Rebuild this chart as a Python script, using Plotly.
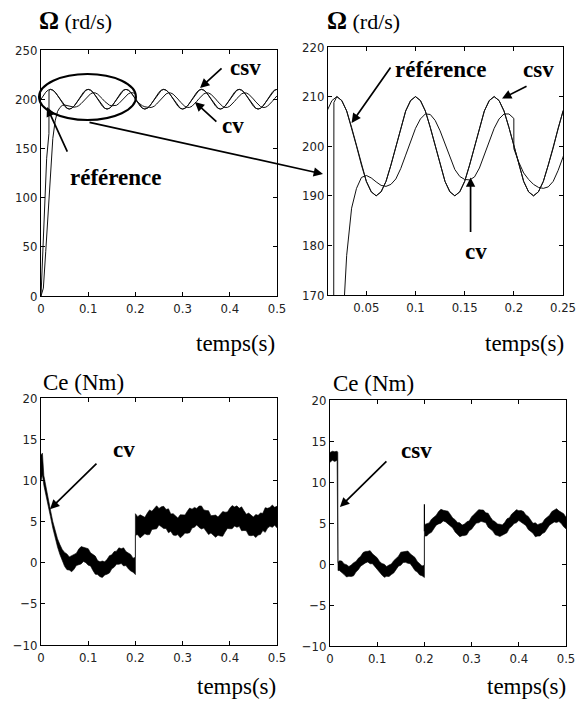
import plotly.graph_objects as go

W, H = 579, 704
OFF = 0  # body margin is removed by the post_script below


def grid(a, b):
    n = int(round((b - a) / 0.005)) + 1
    return [round(a + 0.005 * i, 4) for i in range(n)]


# ---------------- speed (rd/s) ----------------
ref_t = grid(0, 0.5)
ref_w = [200.0, 203.8, 207.1, 209.2, 210.0, 209.2, 207.1, 203.8, 200.0, 196.2, 192.9, 190.8, 190.0, 190.8, 192.9, 196.2,
         200.0, 203.8, 207.1, 209.2, 210.0, 209.2, 207.1, 203.8, 200.0, 196.2, 192.9, 190.8, 190.0, 190.8, 192.9, 196.2,
         200.0, 203.8, 207.1, 209.2, 210.0, 209.2, 207.1, 203.8, 200.0, 196.2, 192.9, 190.8, 190.0, 190.8, 192.9, 196.2,
         200.0, 203.8, 207.1, 209.2, 210.0, 209.2, 207.1, 203.8, 200.0, 196.2, 192.9, 190.8, 190.0, 190.8, 192.9, 196.2,
         200.0, 203.8, 207.1, 209.2, 210.0, 209.2, 207.1, 203.8, 200.0, 196.2, 192.9, 190.8, 190.0, 190.8, 192.9, 196.2,
         200.0, 203.8, 207.1, 209.2, 210.0, 209.2, 207.1, 203.8, 200.0, 196.2, 192.9, 190.8, 190.0, 190.8, 192.9, 196.2,
         200.0, 203.8, 207.1, 209.2, 210.0]

csv_t = [0, 0.004, 0.008, 0.012, 0.0168, 0.017] + grid(0.02, 0.5)
csv_w = [0.0, 45.0, 95.0, 140.0, 165.0, 208.8,
         210.0, 209.2, 207.1, 203.8, 200.0, 196.2, 192.9, 190.8, 190.0, 190.8, 192.9, 196.2,
         200.0, 203.8, 207.1, 209.2, 210.0, 209.2, 207.1, 203.8, 200.0, 196.2, 192.9, 190.8, 190.0, 190.8, 192.9, 196.2,
         200.0, 203.8, 207.1, 209.2, 210.0, 209.2, 207.1, 203.8, 200.0, 196.2, 192.9, 190.8, 190.0, 190.8, 192.9, 196.2,
         199.6, 203.6, 207.0, 209.1, 210.0, 209.2, 207.1, 203.8, 200.0, 196.2, 192.9, 190.8, 190.0, 190.8, 192.9, 196.2,
         200.0, 203.8, 207.1, 209.2, 210.0, 209.2, 207.1, 203.8, 200.0, 196.2, 192.9, 190.8, 190.0, 190.8, 192.9, 196.2,
         200.0, 203.8, 207.1, 209.2, 210.0, 209.2, 207.1, 203.8, 200.0, 196.2, 192.9, 190.8, 190.0, 190.8, 192.9, 196.2,
         200.0, 203.8, 207.1, 209.2, 210.0]

cv_t = grid(0, 0.2) + [0.2] + grid(0.205, 0.5)
cv_w = [0.0, 8.0, 45.0, 85.0, 125.0, 160.0, 178.0, 187.5, 191.5, 193.7,
        194.1, 193.6, 192.8, 192.1, 191.9, 192.3, 193.4, 195.5, 198.2, 201.0,
        203.6, 205.5, 206.5, 206.4, 205.2, 203.1, 200.4, 197.7, 195.3, 193.9,
        193.3, 193.2, 193.8, 195.6, 198.2, 201.0, 203.6, 205.5, 206.5, 206.5,
        205.6,
        199.5,
        196.8, 194.6, 193.3, 192.3, 191.7, 191.5, 191.8, 192.9, 195.1, 197.8,
        200.7, 203.4, 205.4, 206.4, 206.3, 205.1, 202.9, 200.2, 197.3, 194.6,
        192.6, 191.6, 191.7, 192.9, 195.1, 197.8, 200.7, 203.4, 205.4, 206.4,
        206.3, 205.1, 202.9, 200.2, 197.3, 194.6, 192.6, 191.6, 191.7, 192.9,
        195.1, 197.8, 200.7, 203.4, 205.4, 206.4, 206.3, 205.1, 202.9, 200.2,
        197.3, 194.6, 192.6, 191.6, 191.7, 192.9, 195.1, 197.8, 200.7, 203.4]

# ---------------- torque Ce (Nm): centre of the noisy band and its half-width ----------------
ce_cv_t = [0, 0.003, 0.006] + grid(0.01, 0.2) + [0.2] + grid(0.205, 0.5)
ce_cv_c = [11.5, 12.0, 10.0,
           8.8, 7.3, 6.0, 4.6, 3.4, 2.4, 1.6, 0.9,
           0.4, 0.1, -0.1, -0.1, 0.1, 0.4, 0.7, 0.9, 1.0, 0.9,
           0.7, 0.4, 0.0, -0.3, -0.6, -0.8, -0.8, -0.7, -0.5, -0.2,
           0.1, 0.4, 0.6, 0.8, 0.8, 0.7, 0.5, 0.2, 0.0, -0.3, -0.4,
           4.65,
           4.49, 4.41, 4.42, 4.51, 4.69, 4.91, 5.14, 5.35, 5.51, 5.59, 5.58, 5.49, 5.31, 5.09, 4.86,
           4.65, 4.49, 4.41, 4.42, 4.51, 4.69, 4.91, 5.14, 5.35, 5.51, 5.59, 5.58, 5.49, 5.31, 5.09, 4.86,
           4.65, 4.52, 4.43, 4.44, 4.53, 4.71, 4.93, 5.16, 5.37, 5.53, 5.61, 5.60, 5.51, 5.33, 5.11, 4.88,
           4.67, 4.52, 4.44, 4.45, 4.55, 4.73, 4.95, 5.18, 5.40, 5.56, 5.64, 5.63, 5.55]
ce_cv_s = [1.6, 1.3, 0.6,
           0.5, 0.4, 0.4, 0.4, 0.45, 0.5, 0.6, 0.7,
           0.85, 0.95, 0.8, 1.0, 0.9, 0.75, 0.95, 1.05, 0.85, 0.9,
           1.0, 0.8, 0.95, 1.1, 0.85, 0.9, 1.0, 0.8, 0.9, 1.05,
           0.85, 0.95, 0.8, 1.0, 0.9, 1.1, 0.85, 0.95, 1.0, 0.85, 1.05,
           1.3, 1.1, 1.4, 1.2, 1.0, 1.3, 1.5, 1.1, 1.25, 1.4,
           1.0, 1.2, 1.35, 1.15, 1.45, 1.05, 1.3, 1.2, 1.0, 1.4,
           1.25, 1.1, 1.35, 1.5, 1.15, 1.2, 1.0, 1.3, 1.4, 1.1,
           1.25, 1.45, 1.05, 1.2, 1.35, 1.1, 1.3, 1.5, 1.2, 1.0,
           1.25, 1.4, 1.15, 1.3, 1.1, 1.45, 1.2, 1.0, 1.35, 1.25,
           1.1, 1.4, 1.2, 1.3, 1.05, 1.5, 1.2, 1.15, 1.35, 1.1,
           1.3]

ce_csv_t = [0, 0.005, 0.01, 0.015, 0.0165, 0.017] + grid(0.02, 0.2) + [0.2] + grid(0.205, 0.5)
ce_csv_c = [13.0, 13.2, 13.1, 13.2, 13.0, -0.3,
            -0.2, -0.34, -0.64, -0.83, -0.9, -0.83, -0.64, -0.34, 0.0, 0.34,
            0.64, 0.83, 0.9, 0.83, 0.64, 0.34, 0.0, -0.34, -0.64, -0.83,
            -0.9, -0.83, -0.64, -0.34, 0.0, 0.34, 0.64, 0.83, 0.9, 0.83,
            0.64, 0.34, 0.0, -0.34, -0.64, -0.83, -0.9,
            4.1,
            4.17, 4.36, 4.66, 5.0, 5.34, 5.64, 5.83, 5.9, 5.83, 5.64, 5.34, 5.0, 4.66, 4.36, 4.17,
            4.1, 4.17, 4.36, 4.66, 5.0, 5.34, 5.64, 5.83, 5.9, 5.83, 5.64, 5.34, 5.0, 4.66, 4.36, 4.17,
            4.1, 4.17, 4.36, 4.66, 5.0, 5.34, 5.64, 5.83, 5.9, 5.83, 5.64, 5.34, 5.0, 4.66, 4.36, 4.17,
            4.1, 4.17, 4.36, 4.66, 5.0, 5.34, 5.64, 5.83, 5.9, 5.83, 5.64, 5.34, 5.0]
ce_csv_s = [0.6, 0.55, 0.6, 0.55, 0.6, 0.5,
            0.6, 0.7, 0.65, 0.75, 0.6, 0.7, 0.8, 0.65, 0.7, 0.6,
            0.75, 0.7, 0.65, 0.8, 0.6, 0.7, 0.75, 0.65, 0.7, 0.8,
            0.6, 0.7, 0.65, 0.75, 0.7, 0.6, 0.8, 0.65, 0.7, 0.75,
            0.6, 0.7, 0.8, 0.65, 0.7, 0.6, 0.75,
            0.7, 0.75, 0.65, 0.8, 0.7, 0.6, 0.75, 0.85, 0.65, 0.7,
            0.8, 0.7, 0.6, 0.75, 0.7, 0.85, 0.65, 0.7, 0.8, 0.6,
            0.75, 0.7, 0.65, 0.8, 0.7, 0.75, 0.6, 0.85, 0.7, 0.65,
            0.8, 0.7, 0.75, 0.6, 0.7, 0.85, 0.65, 0.75, 0.7, 0.8,
            0.6, 0.7, 0.75, 0.65, 0.8, 0.7, 0.6, 0.85, 0.7, 0.75,
            0.65, 0.8, 0.7, 0.6, 0.75, 0.7, 0.85, 0.65, 0.7, 0.8,
            0.7]
spike_t = [0.2, 0.2]
spike_ce = [4.0, 7.3]

# tick labels
t_ticks = [0, 0.1, 0.2, 0.3, 0.4, 0.5]
t_labels = ["0", "0.1", "0.2", "0.3", "0.4", "0.5"]
tz_ticks = [0.05, 0.1, 0.15, 0.2, 0.25]
tz_labels = ["0.05", "0.1", "0.15", "0.2", "0.25"]
w_ticks = [0, 50, 100, 150, 200, 250]
wz_ticks = [170, 180, 190, 200, 210, 220]
ce_ticks = [-10, -5, 0, 5, 10, 15, 20]

for name, a, b in [("ref", ref_t, ref_w), ("csv", csv_t, csv_w), ("cv", cv_t, cv_w),
                   ("ce_cv_c", ce_cv_t, ce_cv_c), ("ce_cv_s", ce_cv_t, ce_cv_s),
                   ("ce_csv_c", ce_csv_t, ce_csv_c), ("ce_csv_s", ce_csv_t, ce_csv_s)]:
    if len(a) != len(b):
        raise SystemExit(f"length mismatch {name}: {len(a)} vs {len(b)}")


def band(t, c, s):
    up = [ci + si for ci, si in zip(c, s)]
    lo = [ci - si for ci, si in zip(c, s)]
    return list(t) + list(t)[::-1], up + lo[::-1]


def px(x, y):
    """window pixel -> paper coordinate"""
    return (x - OFF) / W, 1 - (y - OFF) / H


def dx(x0, x1):
    return [(x0 - OFF) / W, (x1 - OFF) / W]


def dy(y0, y1):
    return [1 - (y1 - OFF) / H, 1 - (y0 - OFF) / H]


LINE = dict(color="#111111", width=1)
fig = go.Figure()
for ax in ["", "2"]:
    xa, ya = "x" + ax, "y" + ax
    fig.add_trace(go.Scatter(x=ref_t, y=ref_w, mode="lines", line=LINE, xaxis=xa, yaxis=ya, hoverinfo="skip"))
    fig.add_trace(go.Scatter(x=csv_t, y=csv_w, mode="lines", line=LINE, xaxis=xa, yaxis=ya, hoverinfo="skip"))
    fig.add_trace(go.Scatter(x=cv_t, y=cv_w, mode="lines", line=LINE, xaxis=xa, yaxis=ya, hoverinfo="skip"))

bx, by = band(ce_cv_t, ce_cv_c, ce_cv_s)
fig.add_trace(go.Scatter(x=bx, y=by, mode="lines", fill="toself", fillcolor="black",
                         line=dict(color="black", width=0.6), xaxis="x3", yaxis="y3", hoverinfo="skip"))
bx, by = band(ce_csv_t, ce_csv_c, ce_csv_s)
fig.add_trace(go.Scatter(x=bx, y=by, mode="lines", fill="toself", fillcolor="black",
                         line=dict(color="black", width=0.6), xaxis="x4", yaxis="y4", hoverinfo="skip"))
fig.add_trace(go.Scatter(x=spike_t, y=spike_ce, mode="lines", line=dict(color="black", width=1.2),
                         xaxis="x4", yaxis="y4", hoverinfo="skip"))

TICKFONT = dict(family="Liberation Sans Narrow, Arial Narrow, DejaVu Sans Condensed, Liberation Sans, sans-serif",
                size=13, color="#222")
SERIF = "Liberation Serif, Times New Roman, serif"


def axis(domain, anchor, rng, tickvals, ticktext=None):
    d = dict(domain=domain, anchor=anchor, range=rng, tickvals=tickvals, showgrid=False, zeroline=False,
             showline=True, linecolor="black", linewidth=1, mirror="ticks", ticks="inside", ticklen=4,
             tickcolor="black", tickfont=TICKFONT, automargin=False, fixedrange=True,
             ticklabeloverflow="allow")
    if ticktext is not None:
        d["ticktext"] = ticktext
    return d


fig.update_layout(
    width=W, height=H, margin=dict(l=0, r=0, t=0, b=0, pad=0, autoexpand=False), showlegend=False,
    paper_bgcolor="white", plot_bgcolor="white", hovermode=False,
    xaxis=axis(dx(41, 277), "y", [0, 0.5], t_ticks, t_labels),
    yaxis=axis(dy(50, 296), "x", [0, 250], w_ticks),
    xaxis2=axis(dx(328, 563), "y2", [0.011, 0.25], tz_ticks, tz_labels),
    yaxis2=axis(dy(47, 295), "x2", [170, 220], wz_ticks),
    xaxis3=axis(dx(41, 277), "y3", [0, 0.5], t_ticks, t_labels),
    yaxis3=axis(dy(398, 645), "x3", [-10, 20], ce_ticks),
    xaxis4=axis(dx(330, 566), "y4", [0, 0.5], t_ticks, t_labels),
    yaxis4=axis(dy(400, 646), "x4", [-10, 20], ce_ticks),
)

ann = []


def text(x, y, s, size=23, bold=False, xanchor="center"):
    X, Y = px(x, y)
    ann.append(dict(x=X, y=Y, xref="paper", yref="paper", text=("<b>%s</b>" % s) if bold else s,
                    showarrow=False, xanchor=xanchor, yanchor="middle",
                    font=dict(family=SERIF, size=size, color="black")))


def arrow(xr, yr, x, y, ax, ay):
    ann.append(dict(x=x, y=y, xref=xr, yref=yr, ax=ax, ay=ay, axref="pixel", ayref="pixel", text="",
                    showarrow=True, arrowhead=2, arrowsize=1.1, arrowwidth=1.7, arrowcolor="black"))


OMEGA = "<span style='font-size:25px'><b>Ω</b></span> (rd/s)"
# titles
text(37, 20, OMEGA, size=22, xanchor="left")
text(325, 20, OMEGA, size=22, xanchor="left")
text(277, 343, "temps(s)", size=23, xanchor="right")
text(566, 343, "temps(s)", size=23, xanchor="right")
text(41, 382, "Ce (Nm)", size=23, xanchor="left")
text(331, 383, "Ce (Nm)", size=23, xanchor="left")
text(278, 686, "temps(s)", size=23, xanchor="right")
text(568, 686, "temps(s)", size=23, xanchor="right")

# labels with arrows
text(245, 68, "csv", bold=True)
text(233, 126, "cv", bold=True)
text(116, 177, "référence", bold=True)
text(441, 70, "référence", bold=True)
text(538, 70, "csv", bold=True)
text(476, 252, "cv", bold=True)
text(124, 449, "cv", bold=True)
text(416, 450, "csv", bold=True)

arrow("x", "y", 0.337, 211.4, 23, -21)
arrow("x", "y", 0.326, 197.2, 23, 21)
arrow("x", "y", 0.0127, 192.0, 21, 46)
arrow("x2", "y2", 0.035, 204.7, 40, -57)
arrow("x2", "y2", 0.188, 209.6, 26, -13)
arrow("x2", "y2", 0.156, 193.7, 0, 56)
arrow("x3", "y3", 0.019, 6.5, 48, -47)
arrow("x4", "y4", 0.021, 6.95, 48, -47)
# long zoom arrow from the ellipse to the zoomed panel
hx, hy = px(323, 174)
ann.append(dict(x=hx, y=hy, xref="paper", yref="paper", ax=88 - 323, ay=122 - 174, axref="pixel", ayref="pixel",
                text="", showarrow=True, arrowhead=2, arrowsize=1.1, arrowwidth=1.7, arrowcolor="black"))

fig.update_layout(annotations=ann)
ex0, ey0 = px(39, 120)
ex1, ey1 = px(136, 74)
fig.add_shape(type="circle", xref="paper", yref="paper", x0=ex0, y0=ey0, x1=ex1, y1=ey1,
              line=dict(color="black", width=2))

fig.write_html("out.html", config={"displayModeBar": False, "staticPlot": True},
               post_script="document.body.style.margin='0';document.body.style.overflow='hidden';")
